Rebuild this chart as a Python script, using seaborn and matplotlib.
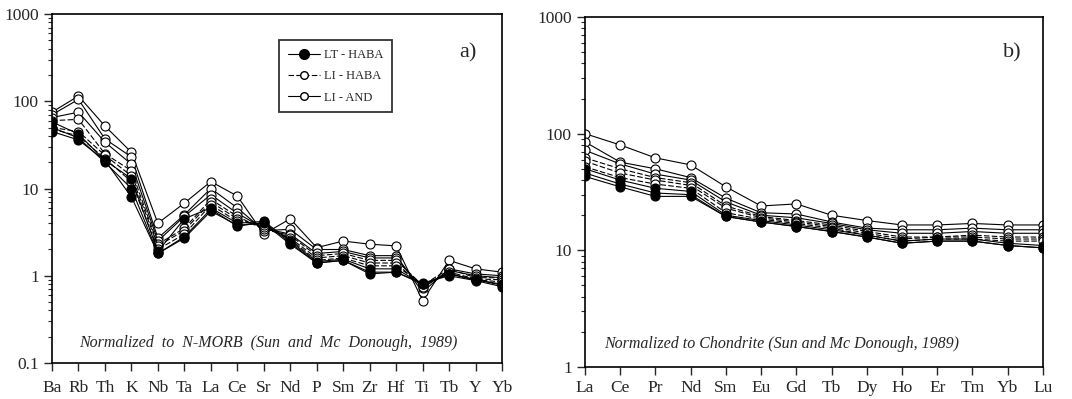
#!/usr/bin/env python3
"""Spider diagrams: N-MORB and chondrite normalized patterns."""

import matplotlib

matplotlib.use("Agg")
import matplotlib.pyplot as plt
import matplotlib.ticker as mticker
import numpy as np
import seaborn as sns
from matplotlib.lines import Line2D

# --- data -------------------------------------------------------------
morb_elements = ["Ba", "Rb", "Th", "K", "Nb", "Ta", "La", "Ce", "Sr",
                 "Nd", "P", "Sm", "Zr", "Hf", "Ti", "Tb", "Y", "Yb"]
ree_elements = ["La", "Ce", "Pr", "Nd", "Sm", "Eu", "Gd", "Tb", "Dy",
                "Ho", "Er", "Tm", "Yb", "Lu"]

groups = ["LI - AND"] * 3 + ["LI - HABA"] * 3 + ["LT - HABA"] * 3

morb_values = [
    [75, 115, 52, 26, 4.0, 6.8, 12, 8.2, 3.0, 4.5, 2.1, 2.5, 2.3, 2.2, 0.52, 1.5, 1.2, 1.1],
    [70, 105, 37, 23, 2.7, 5.0, 10, 6.0, 3.3, 3.4, 2.0, 2.0, 1.7, 1.7, 0.65, 1.2, 1.05, 1.0],
    [65, 75, 34, 19, 2.5, 4.8, 8.5, 5.2, 3.5, 3.0, 1.8, 1.9, 1.6, 1.6, 0.72, 1.15, 1.0, 0.95],
    [60, 62, 25, 16, 2.3, 3.5, 7.5, 4.8, 3.4, 2.9, 1.7, 1.8, 1.5, 1.5, 0.78, 1.2, 0.95, 0.95],
    [50, 45, 24, 14, 2.2, 3.3, 7.0, 4.5, 3.6, 2.7, 1.6, 1.7, 1.4, 1.4, 0.75, 1.1, 0.92, 0.9],
    [48, 40, 22, 12, 2.0, 3.0, 6.5, 4.2, 3.8, 2.6, 1.5, 1.6, 1.3, 1.3, 0.8, 1.05, 0.9, 0.85],
    [58, 42, 21, 13, 1.9, 4.5, 6.0, 4.0, 4.2, 2.5, 1.45, 1.55, 1.2, 1.2, 0.8, 1.05, 0.9, 0.8],
    [50, 38, 20, 10, 1.8, 2.7, 5.5, 3.8, 4.0, 2.3, 1.4, 1.5, 1.1, 1.1, 0.82, 1.0, 0.88, 0.75],
    [45, 36, 21, 8, 1.8, 2.8, 5.8, 3.7, 4.1, 2.4, 1.4, 1.5, 1.05, 1.1, 0.8, 1.05, 0.9, 0.78],
]

ree_values = [
    [100, 80, 62, 54, 35, 24, 25, 20, 18, 16.5, 16.5, 17, 16.5, 16.5],
    [85, 57, 50, 42, 28, 21, 20.5, 17.5, 15.5, 15, 15, 15.5, 15, 15],
    [72, 55, 45, 40, 26, 20, 19, 17, 15, 14, 14, 14.5, 14, 14],
    [62, 50, 42, 38, 24, 19.5, 18, 16.5, 14.5, 13, 13, 13.5, 13, 13],
    [58, 46, 40, 36, 23, 19, 17.5, 16, 14, 12.5, 13, 13, 12.5, 12.5],
    [52, 42, 37, 34, 21, 18.5, 17, 15.5, 13.5, 12, 12.5, 12.5, 12, 12],
    [50, 40, 34, 32, 20, 18, 16.5, 15, 13.5, 12, 12.5, 12.5, 11.5, 11],
    [46, 37, 31, 30, 19.5, 17.5, 16, 14.5, 13, 11.5, 12, 12, 11, 10.5],
    [43, 35, 29, 29, 19.5, 17.5, 16, 14.5, 13, 11.5, 12, 12, 11, 10.5],
]

STYLE = {
    "LT - HABA": dict(ls="-", mfc="black"),
    "LI - HABA": dict(ls=(0, (5, 2)), mfc="white"),
    "LI - AND": dict(ls="-", mfc="white"),
}


def draw_panel(ax, elements, values, ylim, note, tag, xpad):
    pos = np.arange(len(elements))
    # filled symbols drawn last so they sit on top, as in the original
    order = [i for i, g in enumerate(groups) if g != "LT - HABA"] + \
            [i for i, g in enumerate(groups) if g == "LT - HABA"]
    for i in order:
        st = STYLE[groups[i]]
        sns.lineplot(x=pos, y=values[i], ax=ax, color="black", lw=0.8,
                     linestyle=st["ls"], marker="o", markersize=6.5,
                     markerfacecolor=st["mfc"], markeredgecolor="black",
                     markeredgewidth=0.8, estimator=None, sort=False)
    ax.set_yscale("log")
    ax.set_ylim(*ylim)
    ax.set_xlim(0, len(elements) - 1)
    ax.set_xticks(pos)
    ax.set_xticklabels(elements)
    ax.yaxis.set_major_formatter(mticker.FuncFormatter(lambda v, _: f"{v:g}"))
    ax.yaxis.set_minor_locator(mticker.LogLocator(base=10, subs=np.arange(2, 10)))
    ax.yaxis.set_minor_formatter(mticker.NullFormatter())
    ax.tick_params(axis="both", direction="out", labelsize=12.5, width=1.0)
    ax.tick_params(axis="both", which="major", length=6)
    ax.tick_params(axis="y", which="minor", length=3, width=0.8)
    ax.tick_params(axis="x", pad=xpad)
    for sp in ax.spines.values():
        sp.set_visible(True)
        sp.set_linewidth(1.2)
        sp.set_color("black")
    ax.set_xlabel("")
    ax.set_ylabel("")
    ax.text(note[0], note[1], note[2], transform=ax.transAxes, ha="center",
            va="center", style="italic", fontsize=11.5)
    ax.text(tag[0], tag[1], tag[2], transform=ax.transAxes, ha="center",
            va="center", fontsize=16)


sns.set_style("ticks")
plt.rcParams["font.family"] = ["Liberation Serif", "DejaVu Serif"]

fig = plt.figure(figsize=(10.72, 3.99), dpi=100)
ax_a = fig.add_axes([0.0485, 0.0902, 0.4198, 0.8747])
ax_b = fig.add_axes([0.5457, 0.0802, 0.4272, 0.8772])

draw_panel(ax_a, morb_elements, morb_values, (0.1, 1000),
           (0.48, 0.057, "Normalized  to  N-MORB  (Sun  and  Mc  Donough,  1989)"),
           (0.925, 0.89, "a)"), 6)
draw_panel(ax_b, ree_elements, ree_values, (1, 1000),
           (0.43, 0.066, "Normalized to Chondrite (Sun and Mc Donough, 1989)"),
           (0.934, 0.897, "b)"), 3)

handles = [
    Line2D([], [], color="black", lw=0.8, ls=STYLE[g]["ls"], marker="o",
           markersize=7 if g == "LT - HABA" else 5.5,
           markerfacecolor=STYLE[g]["mfc"], markeredgecolor="black")
    for g in ["LT - HABA", "LI - HABA", "LI - AND"]
]
leg = ax_a.legend(handles, ["LT - HABA", "LI - HABA", "LI - AND"],
                  loc="upper left", bbox_to_anchor=(0.504, 0.925),
                  frameon=True, fancybox=False, fontsize=9,
                  handlelength=2.6, borderpad=0.7, labelspacing=0.75,
                  handletextpad=0.3, borderaxespad=0)
leg.get_frame().set_edgecolor("black")
leg.get_frame().set_linewidth(1.3)

fig.savefig("out.png", dpi=100)
